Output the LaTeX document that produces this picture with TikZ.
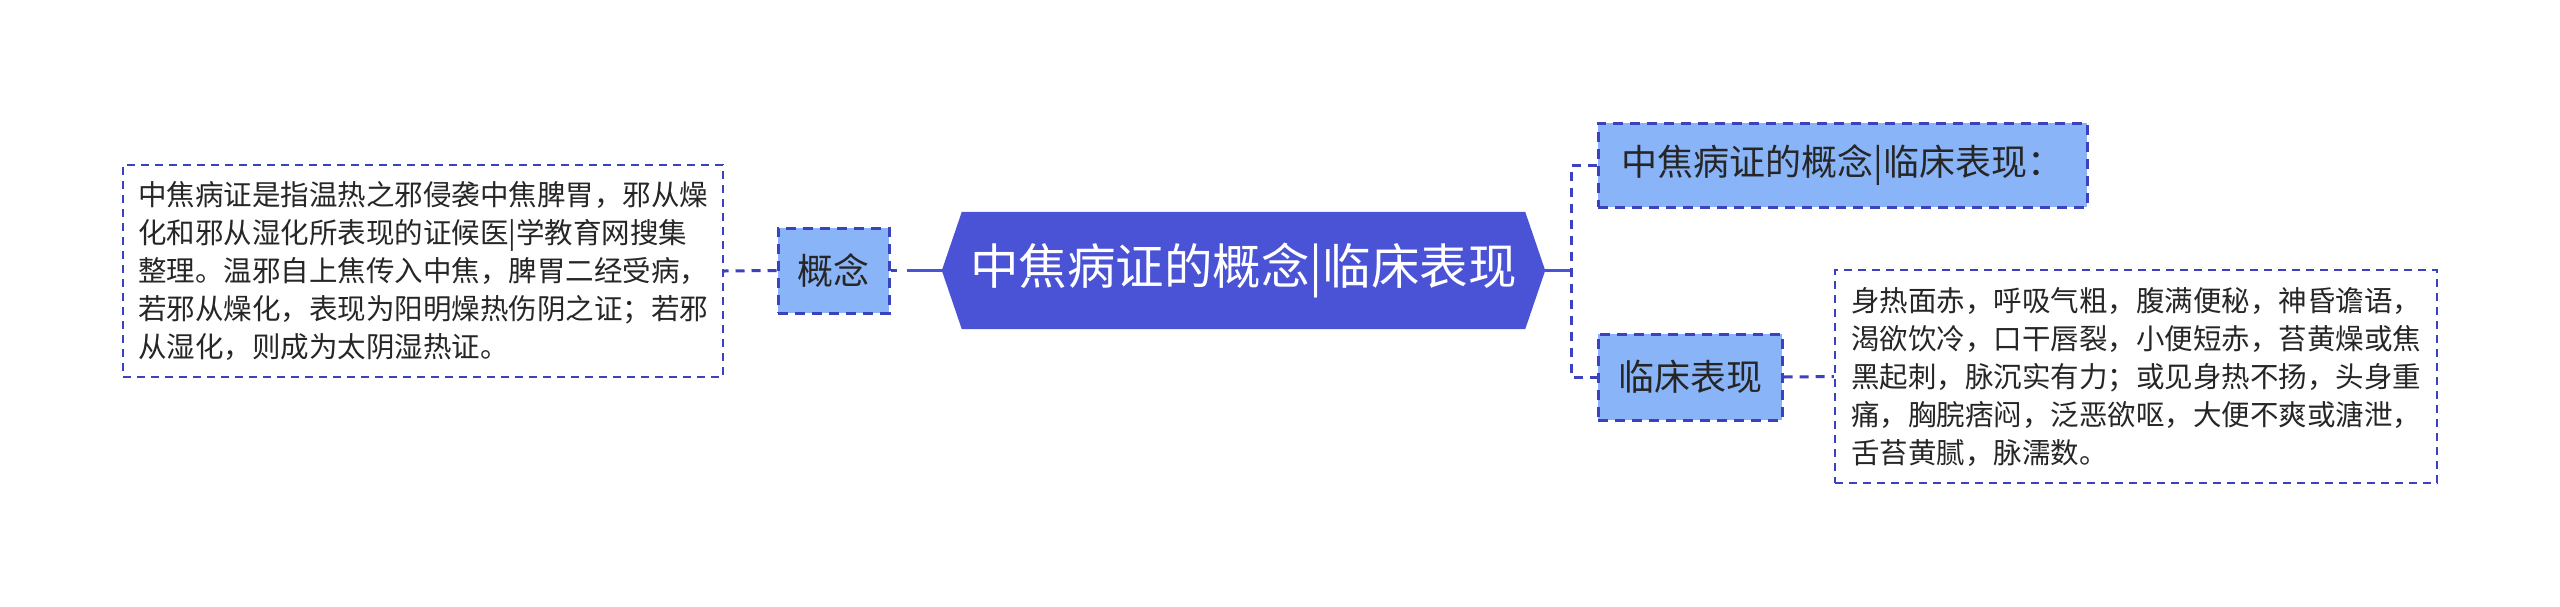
\documentclass[tikz,border=0pt]{standalone}
\usepackage{fontspec}
\newfontfamily\cjk{Noto Sans CJK SC}
\usetikzlibrary{backgrounds}
\definecolor{mainblue}{HTML}{4A52D6}
\definecolor{linecol}{HTML}{3C41BE}
\definecolor{lightblue}{HTML}{8AB4F8}
\definecolor{txt}{HTML}{262626}
\begin{document}
\begin{tikzpicture}[x=1pt,y=-1pt,
  topic/.style={font=\cjk\fontsize{36}{44}\selectfont, text=txt, fill=lightblue, draw=linecol, line width=3pt, dash pattern=on 10pt off 7pt, inner sep=0pt},
  note/.style={font=\cjk\fontsize{28.5}{38}\selectfont, text=txt, fill=white, draw=linecol, line width=2.4pt, dash pattern=on 8pt off 6pt, align=left, inner sep=0pt},
  link/.style={draw=linecol, line width=3pt, dash pattern=on 9pt off 7pt},
  rootlink/.style={draw=mainblue, line width=3.5pt}]
\useasboundingbox (0,0) rectangle (2560,606);

% root
\node[font=\cjk\fontsize{48.5}{56}\selectfont, text=white, minimum width=563pt, minimum height=117pt, inner sep=0pt] (root) at (1243.5,270.5) {中焦病证的概念|临床表现};
\coordinate (rootL) at ([xshift=-20pt]root.west);
\coordinate (rootR) at ([xshift=20pt]root.east);
\begin{scope}[on background layer]
\fill[white] (0,0) rectangle (2560,606);
\fill[mainblue] (root.north west) -- (root.north east) -- (rootR) -- (root.south east) -- (root.south west) -- (rootL) -- cycle;
\end{scope}

% left branch
\node[topic, minimum width=111pt, minimum height=85pt] (gai) at (833.5,270.5) {概念};
\node[note, minimum width=600pt, minimum height=212pt] (ltxt) at (423,271) {中焦病证是指温热之邪侵袭中焦脾胃，邪从燥\\化和邪从湿化所表现的证候医|学教育网搜集\\整理。温邪自上焦传入中焦，脾胃二经受病，\\若邪从燥化，表现为阳明燥热伤阴之证；若邪\\从湿化，则成为太阴湿热证。};

% right branch
\node[topic, minimum width=489pt, minimum height=84pt] (def) at (1842.5,165) {中焦病证的概念|临床表现：};
\node[topic, minimum width=184pt, minimum height=86pt] (lc) at (1690,377) {临床表现};
\node[note, minimum width=602pt, minimum height=213pt] (rtxt) at (2136,376.5) {身热面赤，呼吸气粗，腹满便秘，神昏谵语，\\渴欲饮冷，口干唇裂，小便短赤，苔黄燥或焦\\黑起刺，脉沉实有力；或见身热不扬，头身重\\痛，胸脘痞闷，泛恶欲呕，大便不爽或溏泄，\\舌苔黄腻，脉濡数。};

% connectors
\coordinate (g) at ([xshift=16pt]gai.east);
\coordinate (j) at ([xshift=26pt]rootR);
\draw[rootlink] (rootL) -- (g);
\draw[link, dash pattern=on 6pt off 12pt] (gai.east) -- (g);
\draw[link] (gai.west) -- (ltxt.east);
\draw[rootlink, line width=3pt] (rootR) -- (j);
\draw[link] (def.west) -| (j) |- (lc.west);
\draw[link] (lc.east) -- (rtxt.west);
\end{tikzpicture}
\end{document}
